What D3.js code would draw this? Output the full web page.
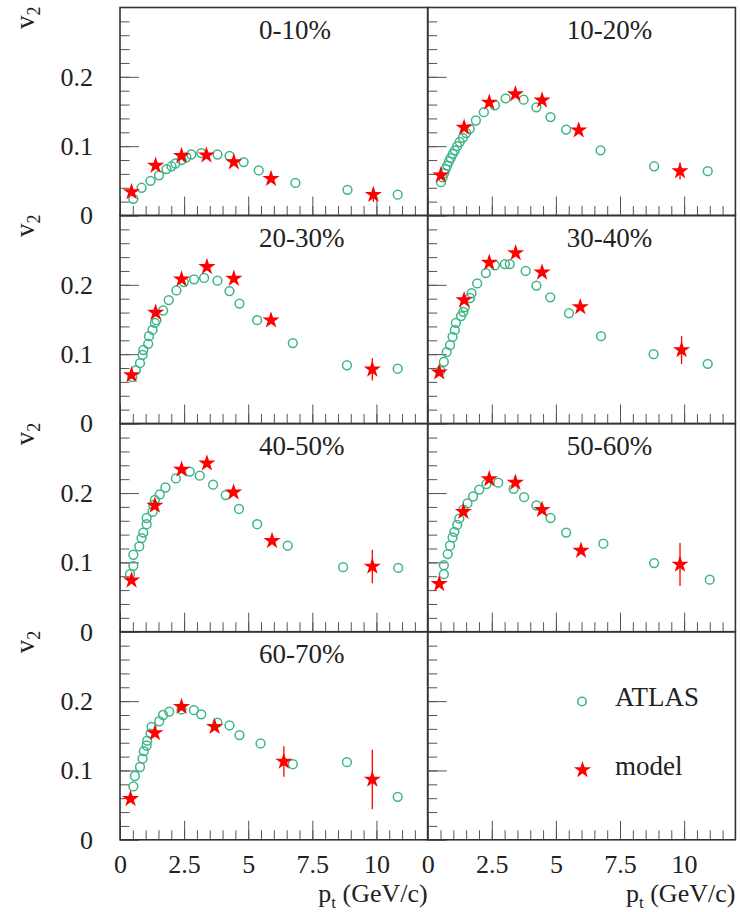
<!DOCTYPE html>
<html>
<head>
<meta charset="utf-8">
<script src="https://cdn.jsdelivr.net/npm/d3@7"></script>
<style>
  body { margin: 0; background: #fff; }
  svg { display: block; }
</style>
</head>
<body>
<svg id="chart" width="740" height="912"></svg>
<script>
// centrality classes, one panel each
const centralities = ["0-10%", "10-20%", "20-30%", "30-40%", "40-50%", "50-60%", "60-70%"];

// ATLAS data (open circles)
const atlasPt = [
    [0.52, 0.84, 1.19, 1.52, 1.81, 2.01, 2.16, 2.40, 2.59, 2.78, 3.17, 3.80, 4.27, 4.82, 5.41, 6.84, 8.87, 10.83],
    [0.52, 0.58, 0.64, 0.70, 0.76, 0.83, 0.90, 0.98, 1.06, 1.15, 1.25, 1.37, 1.50, 1.64, 1.88, 2.19, 2.62, 3.04, 3.74, 4.24, 4.79, 5.40, 6.74, 8.83, 10.92],
    [0.48, 0.62, 0.78, 0.88, 0.91, 1.10, 1.13, 1.27, 1.36, 1.42, 1.68, 1.90, 2.20, 2.49, 2.89, 3.28, 3.80, 4.27, 4.66, 5.35, 6.74, 8.85, 10.83],
    [0.50, 0.63, 0.74, 0.87, 0.97, 1.06, 1.10, 1.30, 1.39, 1.45, 1.65, 1.71, 1.93, 2.27, 2.62, 3.01, 3.20, 3.82, 4.24, 4.78, 5.51, 6.76, 8.81, 10.92],
    [0.39, 0.52, 0.52, 0.75, 0.84, 0.91, 1.04, 1.04, 1.27, 1.30, 1.36, 1.55, 1.77, 2.18, 2.72, 3.11, 3.63, 4.12, 4.64, 5.35, 6.54, 8.70, 10.85],
    [0.63, 0.63, 0.78, 0.87, 0.97, 1.04, 1.15, 1.23, 1.39, 1.55, 1.77, 2.01, 2.29, 2.75, 3.35, 3.76, 4.24, 4.79, 5.40, 6.85, 8.83, 11.0],
    [0.52, 0.58, 0.78, 0.88, 0.93, 1.04, 1.06, 1.19, 1.23, 1.53, 1.68, 1.92, 2.40, 2.88, 3.17, 3.80, 4.27, 4.66, 5.48, 6.74, 8.85, 10.83]
];
const atlasV2 = [
    [0.024, 0.040, 0.050, 0.058, 0.067, 0.071, 0.075, 0.080, 0.084, 0.088, 0.090, 0.088, 0.086, 0.077, 0.065, 0.047, 0.037, 0.030],
    [0.048, 0.055, 0.061, 0.067, 0.072, 0.078, 0.083, 0.089, 0.094, 0.100, 0.106, 0.112, 0.119, 0.125, 0.137, 0.149, 0.159, 0.169, 0.167, 0.156, 0.142, 0.124, 0.094, 0.071, 0.064],
    [0.067, 0.077, 0.087, 0.099, 0.106, 0.115, 0.126, 0.135, 0.145, 0.149, 0.163, 0.178, 0.192, 0.204, 0.208, 0.210, 0.206, 0.191, 0.173, 0.149, 0.116, 0.084, 0.079],
    [0.076, 0.089, 0.103, 0.113, 0.125, 0.135, 0.145, 0.155, 0.161, 0.168, 0.181, 0.188, 0.202, 0.217, 0.228, 0.230, 0.230, 0.220, 0.199, 0.182, 0.159, 0.126, 0.100, 0.086],
    [0.083, 0.095, 0.111, 0.123, 0.135, 0.143, 0.155, 0.164, 0.173, 0.183, 0.190, 0.198, 0.208, 0.221, 0.231, 0.225, 0.212, 0.197, 0.177, 0.155, 0.124, 0.093, 0.092],
    [0.083, 0.096, 0.112, 0.124, 0.136, 0.144, 0.154, 0.163, 0.176, 0.185, 0.195, 0.205, 0.213, 0.215, 0.206, 0.194, 0.182, 0.164, 0.143, 0.127, 0.099, 0.075],
    [0.077, 0.092, 0.105, 0.117, 0.128, 0.136, 0.143, 0.153, 0.163, 0.171, 0.180, 0.185, 0.188, 0.187, 0.181, 0.169, 0.165, 0.151, 0.139, 0.109, 0.112, 0.062]
];

// model (red stars) with vertical errors
const modelPt = [
    [0.45, 1.39, 2.40, 3.37, 4.44, 5.89, 9.88],
    [0.51, 1.42, 2.40, 3.42, 4.46, 5.89, 9.84],
    [0.45, 1.39, 2.40, 3.39, 4.44, 5.89, 9.84],
    [0.45, 1.42, 2.40, 3.43, 4.46, 5.95, 9.90],
    [0.45, 1.36, 2.40, 3.39, 4.43, 5.93, 9.84],
    [0.45, 1.39, 2.40, 3.42, 4.46, 5.98, 9.84],
    [0.41, 1.36, 2.40, 3.69, 6.39, 9.84]
];
const modelV2 = [
    [0.034, 0.072, 0.086, 0.087, 0.077, 0.053, 0.030],
    [0.058, 0.127, 0.163, 0.175, 0.166, 0.123, 0.064],
    [0.070, 0.160, 0.208, 0.226, 0.209, 0.149, 0.078],
    [0.074, 0.178, 0.232, 0.246, 0.218, 0.168, 0.106],
    [0.074, 0.182, 0.234, 0.243, 0.201, 0.131, 0.094],
    [0.069, 0.173, 0.220, 0.215, 0.176, 0.117, 0.097],
    [0.059, 0.154, 0.192, 0.163, 0.113, 0.087]
];
const modelErr = [
    [0, 0, 0, 0, 0, 0, 0.010],
    [0, 0, 0, 0, 0, 0, 0.012],
    [0, 0, 0, 0, 0, 0, 0.016],
    [0, 0, 0, 0, 0, 0, 0.020],
    [0, 0, 0, 0, 0, 0, 0.024],
    [0, 0, 0, 0, 0, 0, 0.031],
    [0, 0, 0, 0, 0.022, 0.043]
];

const xTicks = [0, 2.5, 5, 7.5, 10];
const yTicks = [0, 0.1, 0.2];
const legendLabels = ["ATLAS", "model"];

// layout (canvas divided 2 x 4 like the ROOT pads)
const colX = [120, 427.7];
const colW = 307.7;
const rowY = [7.5, 215.5, 423.7, 631.8];
const rowH = 208;
const green = "#3db688";
const red = "#ff0000";
const serif = '"Liberation Serif", Tinos, "Times New Roman", serif';

const svg = d3.select("#chart");

const x = d3.scaleLinear().domain([0, 12]).range([0, colW]);
const y = d3.scaleLinear().domain([0, 0.3]).range([rowH, 0]);

const star = d3.symbol().type(d3.symbolStar).size(92);

for (let p = 0; p < 8; p++) {
    const col = p % 2;
    const row = Math.floor(p / 2);
    const g = svg.append("g").attr("transform", `translate(${colX[col]},${rowY[row]})`);

    // minor + major ticks, pointing into the pad
    const yMinor = d3.axisRight(y).tickValues(d3.range(0.02, 0.29, 0.02)).tickSize(9.5).tickFormat("");
    const yMajor = d3.axisRight(y).tickValues(yTicks).tickSize(19).tickFormat("");
    const xMinor = d3.axisTop(x).tickValues(d3.range(0.5, 12, 0.5)).tickSize(9.5).tickFormat("");
    const xMajor = d3.axisTop(x).tickValues(xTicks).tickSize(19).tickFormat("");
    g.append("g").call(yMinor);
    g.append("g").call(yMajor);
    g.append("g").attr("transform", `translate(0,${rowH})`).call(xMinor);
    g.append("g").attr("transform", `translate(0,${rowH})`).call(xMajor);
    g.selectAll(".domain").remove();
    g.selectAll(".tick line").attr("stroke", "#555").attr("stroke-width", 1);

    g.append("rect")
        .attr("width", colW)
        .attr("height", rowH)
        .attr("fill", "none")
        .attr("stroke", "#333")
        .attr("stroke-width", 1.6);

    if (col === 0) {
        const yLab = d3.axisLeft(y).tickValues(yTicks).tickSize(0).tickPadding(27)
            .tickFormat((d) => (d === 0 ? "0" : d3.format(".1f")(d)));
        const ya = g.append("g").call(yLab);
        ya.select(".domain").remove();
        ya.selectAll("text")
            .style("font-family", serif)
            .style("font-size", "26px")
            .attr("fill", "#222");

        const lab = svg.append("text")
            .attr("transform", `translate(34,${rowY[row] - 1}) rotate(-90)`)
            .attr("text-anchor", "end")
            .style("font-family", serif)
            .style("font-size", "27px")
            .attr("fill", "#222");
        lab.append("tspan").text("v");
        lab.append("tspan").style("font-size", "18px").attr("dy", 6).text("2");
    }

    if (row === 3) {
        const xLab = d3.axisBottom(x).tickValues(xTicks).tickSize(0).tickPadding(15)
            .tickFormat((d) => String(d));
        const xa = g.append("g").attr("transform", `translate(0,${rowH})`).call(xLab);
        xa.select(".domain").remove();
        xa.selectAll("text")
            .style("font-family", serif)
            .style("font-size", "26px")
            .attr("fill", "#222");

        const t = g.append("text")
            .attr("x", colW)
            .attr("y", rowH + 62)
            .attr("text-anchor", "end")
            .style("font-family", serif)
            .style("font-size", "26px")
            .attr("fill", "#222");
        t.append("tspan").text("p");
        t.append("tspan").style("font-size", "17px").attr("dy", 6).text("t");
        t.append("tspan").attr("dy", -6).text("\u00a0(GeV/c)");
    }

    if (p >= centralities.length) {
        // legend pad
        const lg = svg.append("g");
        lg.append("circle")
            .attr("cx", 582)
            .attr("cy", 701.5)
            .attr("r", 4.2)
            .attr("fill", "none")
            .attr("stroke", green)
            .attr("stroke-width", 1.6);
        lg.append("path")
            .attr("d", star())
            .attr("transform", "translate(582.5,770)")
            .attr("fill", red);
        lg.selectAll("text.leg")
            .data(legendLabels)
            .join("text")
            .attr("class", "leg")
            .attr("x", 615)
            .attr("y", (d, i) => 705.5 + i * 69.5)
            .style("font-family", serif)
            .style("font-size", "27px")
            .attr("fill", "#222")
            .text((d) => d);
        continue;
    }

    g.append("text")
        .attr("x", 139)
        .attr("y", 31)
        .style("font-family", serif)
        .style("font-size", "27px")
        .attr("fill", "#222")
        .text(centralities[p]);

    const atlas = atlasPt[p].map((v, i) => [v, atlasV2[p][i]]);
    g.append("g")
        .selectAll("circle")
        .data(atlas)
        .join("circle")
        .attr("cx", (d) => x(d[0]))
        .attr("cy", (d) => y(d[1]))
        .attr("r", 4.4)
        .attr("fill", "none")
        .attr("stroke", green)
        .attr("stroke-width", 1.5);

    const model = modelPt[p].map((v, i) => [v, modelV2[p][i], modelErr[p][i]]);
    g.append("g")
        .selectAll("line")
        .data(model.filter((d) => d[2] > 0))
        .join("line")
        .attr("x1", (d) => x(d[0]))
        .attr("x2", (d) => x(d[0]))
        .attr("y1", (d) => y(d[1] - d[2]))
        .attr("y2", (d) => y(d[1] + d[2]))
        .attr("stroke", red)
        .attr("stroke-width", 1.3);
    g.append("g")
        .selectAll("path")
        .data(model)
        .join("path")
        .attr("d", star())
        .attr("transform", (d) => `translate(${x(d[0])},${y(d[1])})`)
        .attr("fill", red);
}
</script>
</body>
</html>
